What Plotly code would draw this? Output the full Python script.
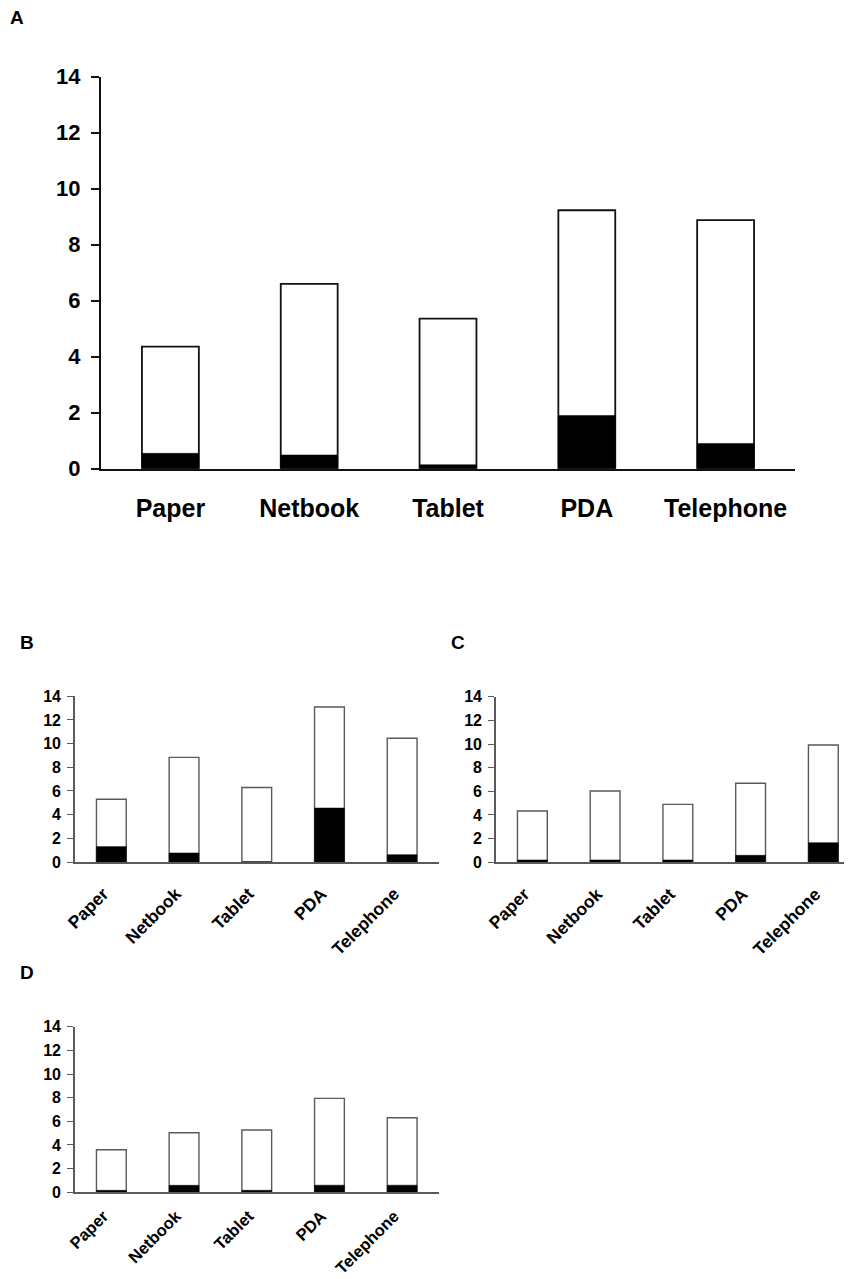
import plotly.graph_objects as go

categories = ["Paper", "Netbook", "Tablet", "PDA", "Telephone"]

# Panel A
total_A = [4.36, 6.6, 5.36, 9.23, 8.88]
black_A = [0.55, 0.49, 0.14, 1.9, 0.9]
# Panel B
total_B = [5.3, 8.84, 6.3, 13.1, 10.45]
black_B = [1.3, 0.76, 0.0, 4.56, 0.62]
# Panel C
total_C = [4.34, 6.03, 4.9, 6.68, 9.92]
black_C = [0.2, 0.2, 0.2, 0.59, 1.66]
# Panel D
total_D = [3.6, 5.04, 5.27, 7.94, 6.3]
black_D = [0.17, 0.59, 0.17, 0.6, 0.6]

y_ticks = [0, 2, 4, 6, 8, 10, 12, 14]

PAGE_W, PAGE_H = 852, 1279
OFF = 8  # page body margin
W, H = PAGE_W - OFF, PAGE_H - OFF
FONT = "Liberation Sans, Arial, sans-serif"


def fx(p):
    return min(max((p - OFF) / W, 0), 1)


def fy(p):
    return min(max(1 - (p - OFF) / H, 0), 1)


fig = go.Figure()

panels = [
    ("A", total_A, black_A, (101, 795), (76.7, 468.7), [-0.5, 4.5], "big", 16, 25),
    ("B", total_B, black_B, (75, 438.5), (696.3, 862.0), [-0.5, 4.5], "small", 13, 17.5),
    ("C", total_C, black_C, (496, 852), (696.7, 862.3), [-0.5, 4.394], "small", 13, 17.5),
    ("D", total_D, black_D, (75, 438.5), (1026.7, 1192.3), [-0.5, 4.5], "small", 6, 16.5),
]

layout_updates = {}
for i, (name, tot, blk, (xl, xr), (yt, yb), xrange, style, standoff, xfs) in enumerate(panels):
    idx = "" if i == 0 else str(i + 1)
    xa, ya = "x" + idx, "y" + idx
    big = style == "big"
    edge = "#111111" if big else "#5a5a5a"
    lw = 1.8 if big else 1.4
    fig.add_trace(go.Bar(x=categories, y=tot, xaxis=xa, yaxis=ya, width=0.41,
                         marker=dict(color="white", line=dict(color=edge, width=lw)),
                         showlegend=False, hoverinfo="skip"))
    fig.add_trace(go.Bar(x=categories, y=blk, xaxis=xa, yaxis=ya, width=0.41,
                         marker=dict(color="black", line=dict(color="black", width=0.5)),
                         showlegend=False, hoverinfo="skip"))
    layout_updates["xaxis" + idx] = dict(
        domain=[fx(xl), fx(xr)], range=xrange, anchor=ya, type="category",
        showline=True, linecolor=edge, linewidth=lw + 0.2, ticks="",
        showgrid=False, zeroline=False, automargin=False,
        tickangle=0 if big else -45,
        tickfont=dict(family=FONT, size=xfs, color="black", weight="bold"),
        ticklabelstandoff=standoff,
        ticklabelshift=0 if big else -8,
    )
    layout_updates["yaxis" + idx] = dict(
        domain=[fy(yb), fy(yt)], range=[0, 14], anchor=xa,
        tickvals=y_ticks, ticks="outside", ticklen=8 if big else 6,
        tickcolor=edge, tickwidth=lw,
        showline=True, linecolor=edge, linewidth=lw + 0.2,
        showgrid=False, zeroline=False, automargin=False,
        tickfont=dict(family=FONT, size=22 if big else 16, color="black", weight="bold"),
        ticklabelstandoff=6 if big else 3,
    )

fig.update_layout(
    width=W, height=H, barmode="overlay",
    margin=dict(l=0, r=0, t=0, b=0, autoexpand=False),
    paper_bgcolor="white", plot_bgcolor="white",
    **layout_updates,
)

labels = [("A", 17, 18), ("B", 27, 642), ("C", 458, 642), ("D", 27, 972)]
for txt, px, py in labels:
    fig.add_annotation(text=txt, x=fx(px), y=fy(py), xref="paper", yref="paper",
                       showarrow=False, xanchor="center", yanchor="middle", borderpad=0,
                       font=dict(family=FONT, size=19, color="black", weight="bold"))

fig.write_html("out.html")
